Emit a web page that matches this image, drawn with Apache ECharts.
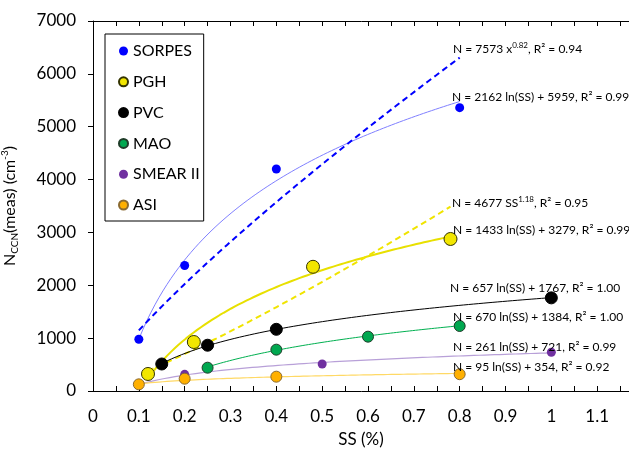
<!DOCTYPE html>
<html>
<head>
<meta charset="utf-8">
<script src="https://cdn.jsdelivr.net/npm/echarts@6/dist/echarts.min.js"></script>
<style>
html,body{margin:0;padding:0;background:#fff;}
#c{width:629px;height:450px;}
</style>
</head>
<body>
<div id="c"></div>
<script>
// ---- data ----
const seriesNames = ['SORPES', 'PGH', 'PVC', 'MAO', 'SMEAR II', 'ASI'];
const ssSORPES = [0.1, 0.2, 0.4, 0.8];
const nSORPES  = [978, 2375, 4200, 5360];
const ssPGH = [0.12, 0.22, 0.48, 0.78];
const nPGH  = [322, 927, 2350, 2876];
const ssPVC = [0.15, 0.25, 0.4, 1.0];
const nPVC  = [511, 866, 1167, 1762];
const ssMAO = [0.25, 0.4, 0.6, 0.8];
const nMAO  = [441, 782, 1028, 1230];
const ssSMEAR = [0.2, 0.5, 1.0];
const nSMEAR  = [315, 510, 734];
const ssASI = [0.1, 0.2, 0.4, 0.8];
const nASI  = [126, 233, 271, 318];

// fitted trend equations shown in the chart: [a, b, ssFrom, ssTo]
const logSORPES = [2162, 5959, 0.1, 0.8];
const powSORPES = [7573, 0.82, 0.1, 0.8];
const logPGH = [1433, 3279, 0.12, 0.78];
const powPGH = [4677, 1.18, 0.12, 0.78];
const logPVC = [657, 1767, 0.15, 1.0];
const logMAO = [670, 1384, 0.25, 0.8];
const logSMEAR = [261, 721, 0.1, 1.0];
const logASI = [95, 354, 0.1, 0.8];

const yTicks = [0, 1000, 2000, 3000, 4000, 5000, 6000, 7000];

const eqTexts = [
  'N = 7573 x{sup|0.82}, R² = 0.94',
  'N = 2162 ln(SS) + 5959, R² = 0.99',
  'N = 4677 SS{sup|1.18}, R² = 0.95',
  'N = 1433 ln(SS) + 3279, R² = 0.99',
  'N = 657 ln(SS) + 1767, R² = 1.00',
  'N = 670 ln(SS) + 1384, R² = 1.00',
  'N = 261 ln(SS) + 721, R² = 0.99',
  'N = 95 ln(SS) + 354, R² = 0.92'
];
const eqPos = [[453,49],[452,97],[452,203],[453,230],[450,288],[453,317],[453,347],[453,367]];

// ---- helpers ----
function zip(xs, ys){ return xs.map((x,i)=>[x, ys[i]]); }
function curve(fit, kind){
  const [a,b,x0,x1] = fit, n = 80, out = [];
  for(let i=0;i<=n;i++){
    const x = x0 + (x1-x0)*i/n;
    out.push([x, kind==='log' ? a*Math.log(x)+b : a*Math.pow(x,b)]);
  }
  return out;
}
function lineS(data, color, width, dashed){
  return {type:'line', data, showSymbol:false, symbol:'none', silent:true, z:1,
    lineStyle:{color, width, type: dashed ? [6,4] : 'solid'}};
}
function scat(name, data, color, size, border){
  return {type:'scatter', name, data, symbolSize:size, z:3,
    itemStyle:{color, borderColor: border || color, borderWidth: border ? 1 : 0, opacity:1}};
}

const FONT = 'Lato';
const chart = echarts.init(document.getElementById('c'), null, {renderer:'canvas'});
const tickCommon = {show:true, inside:true, length:5, lineStyle:{color:'#000', width:1}};

chart.setOption({
  animation:false,
  backgroundColor:'#fff',
  textStyle:{fontFamily:FONT, color:'#000'},
  grid:{left:93, top:21, bottom:59, right:-14, containLabel:false, outerBoundsMode:'none'},
  legend:{
    data: seriesNames,
    orient:'vertical', left:105, top:34,
    itemWidth:9, itemHeight:9, itemGap:14.8,
    icon:'circle',
    padding:[9, 4, 8, 13],
    borderColor:'#000', borderWidth:1,
    textStyle:{fontFamily:FONT, fontSize:16, color:'#000', lineHeight:16},
    selectedMode:false
  },
  xAxis:[{
    type:'value', min:0, max:1.2, interval:0.1, position:'bottom',
    axisLine:{show:true, onZero:false, lineStyle:{color:'#000', width:1}},
    axisTick:tickCommon,
    minorTick:{show:true, splitNumber:2, length:5, lineStyle:{color:'#000', width:1}},
    splitLine:{show:false},
    axisLabel:{fontFamily:FONT, fontSize:17, color:'#000', margin:17},
    name:'SS (%)', nameLocation:'middle', nameGap:40,
    nameTextStyle:{fontFamily:FONT, fontSize:17, color:'#000', padding:[0,14,0,0]}
  },{
    type:'value', min:0, max:1.2, interval:0.1, position:'top',
    axisLine:{show:true, onZero:false, lineStyle:{color:'#000', width:1}},
    axisTick:tickCommon,
    minorTick:{show:true, splitNumber:2, length:5, lineStyle:{color:'#000', width:1}},
    splitLine:{show:false},
    axisLabel:{show:false}
  }],
  yAxis:{
    type:'value', min:yTicks[0], max:yTicks[yTicks.length-1], interval:1000,
    axisLine:{show:true, onZero:false, lineStyle:{color:'#000', width:1}},
    axisTick:{show:true, inside:false, length:5, lineStyle:{color:'#000'}},
    splitLine:{show:false},
    axisLabel:{fontFamily:FONT, fontSize:17, color:'#000', margin:17, formatter:(v)=>String(v)},
    name:'{a|N}{b|CCN}{a|(meas) (cm}{c|-3}{a|)}',
    nameLocation:'middle', nameRotate:90, nameGap:73,
    nameTextStyle:{
      fontFamily:FONT, color:'#000',
      rich:{
        a:{fontFamily:FONT, fontSize:16, lineHeight:20, color:'#000'},
        b:{fontFamily:FONT, fontSize:10, lineHeight:12, verticalAlign:'bottom', color:'#000'},
        c:{fontFamily:FONT, fontSize:10, lineHeight:12, verticalAlign:'top', color:'#000'}
      }
    }
  },
  series:[
    lineS(curve(logSORPES,'log'), '#8080ff', 1, false),
    lineS(curve(powSORPES,'pow'), '#0000ff', 2, true),
    lineS(curve(logPGH,'log'), '#e8e000', 2, false),
    lineS(curve(powPGH,'pow'), '#f0e400', 2, true),
    lineS(curve(logPVC,'log'), '#000000', 1, false),
    lineS(curve(logMAO,'log'), '#00b050', 1, false),
    lineS(curve(logSMEAR,'log'), '#b8a0d8', 1.2, false),
    lineS(curve(logASI,'log'), '#ffd966', 1.2, false),
    scat('SORPES', zip(ssSORPES, nSORPES), '#0000ff', 9, null),
    scat('PGH', zip(ssPGH, nPGH), '#f2e600', 13, '#333300'),
    scat('PVC', zip(ssPVC, nPVC), '#000000', 12, '#000000'),
    scat('MAO', zip(ssMAO, nMAO), '#00a850', 11, '#1e3c28'),
    scat('SMEAR II', zip(ssSMEAR, nSMEAR), '#7030a0', 9, null),
    scat('ASI', zip(ssASI, nASI), '#ffb000', 11, '#8a6a30')
  ],
  graphic: eqTexts.map((t,i)=>({
    type:'text', left:eqPos[i][0], top:eqPos[i][1]-8, z:10, silent:true,
    style:{
      text:t, fontFamily:FONT, fontSize:12, fill:'#000', lineHeight:16,
      rich:{sup:{fontFamily:FONT, fontSize:8, lineHeight:10, verticalAlign:'top', fill:'#000'}}
    }
  }))
});
</script>
</body>
</html>
